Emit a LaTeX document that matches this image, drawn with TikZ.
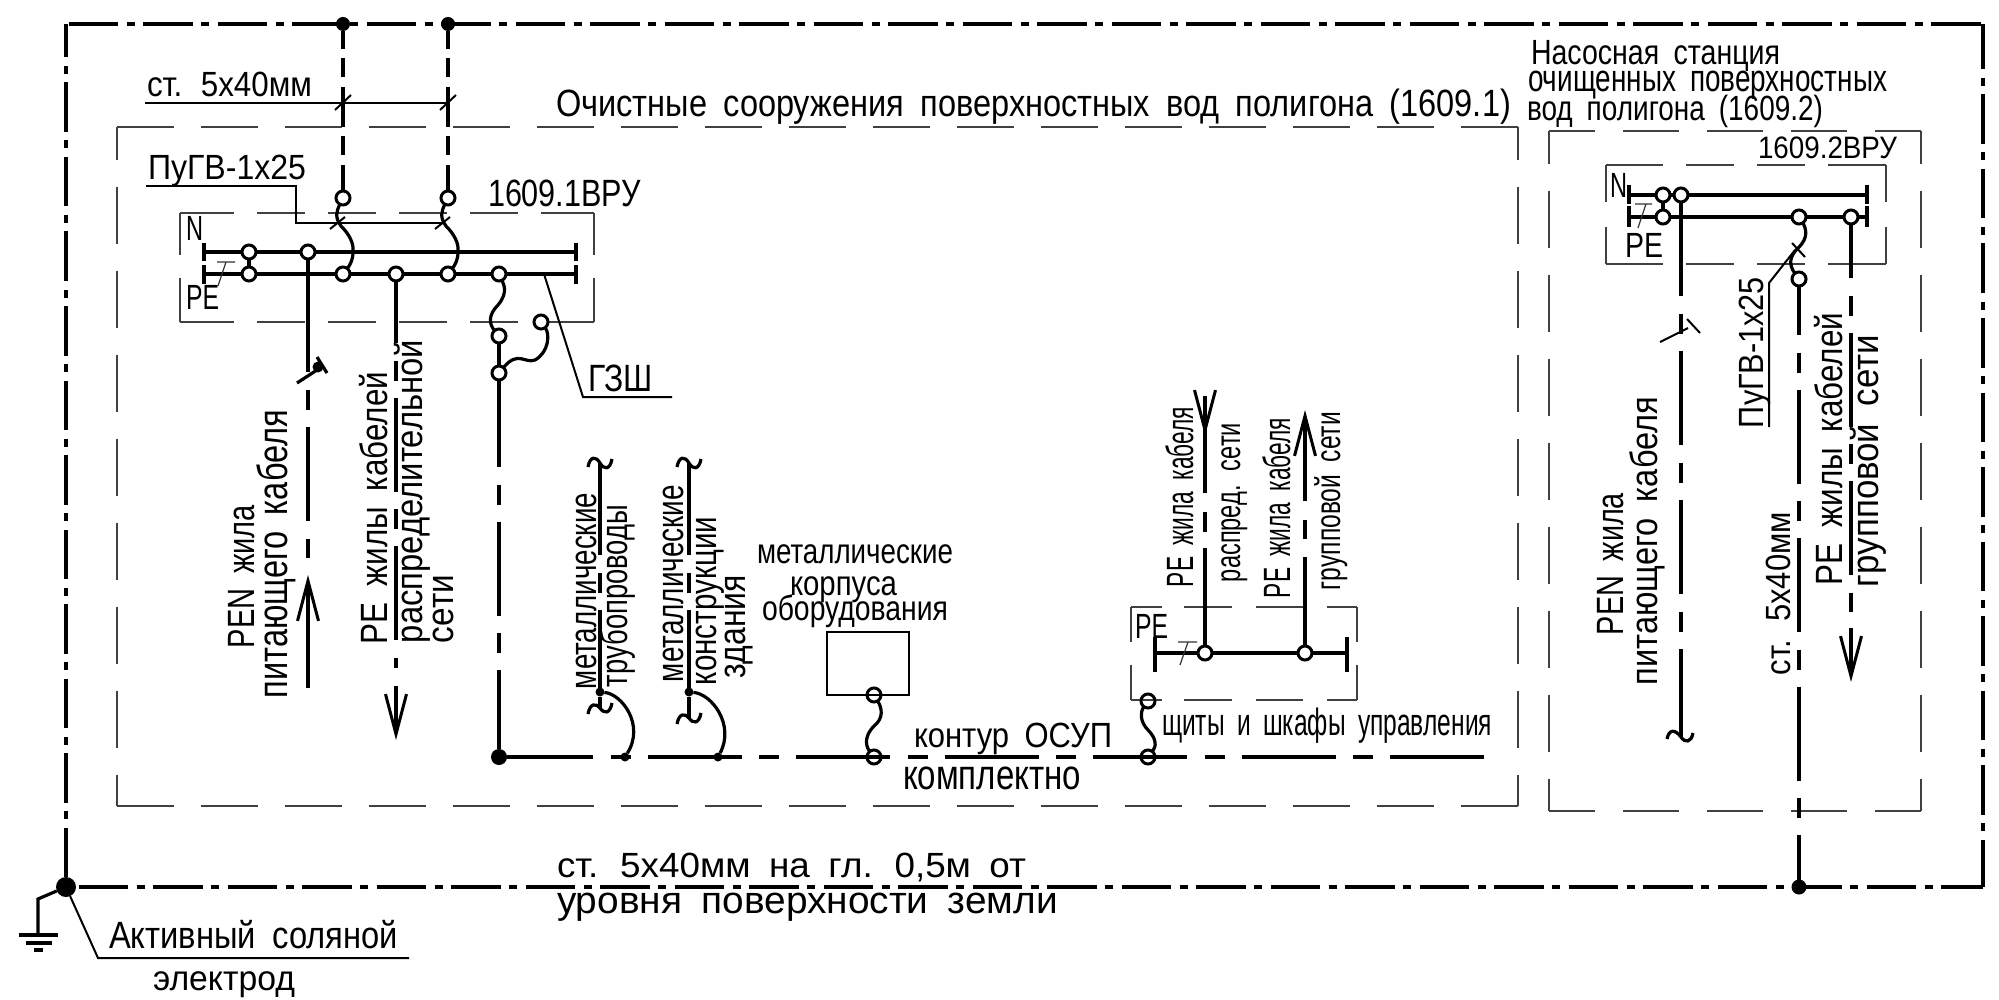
\documentclass[tikz,border=0pt]{standalone}
\usepackage{fontspec}
\setmainfont[WordSpace=1.8]{Liberation Sans}
\usetikzlibrary{arrows.meta}
\newcommand{\fitw}[2]{\resizebox{#1pt}{\height}{#2}}
\newcommand{\zonebox}[6]{%
  \draw[zone,#5] (#1,#2) -- (#3,#2);
  \draw[zone,#5] (#1,#4) -- (#3,#4);
  \draw[zone,#6] (#1,#2) -- (#1,#4);
  \draw[zone,#6] (#3,#2) -- (#3,#4);
}

\begin{document}
\begin{tikzpicture}[
    x=1pt, y=-1pt,
    lbl/.style={anchor=base west, inner sep=0, outer sep=0, font=\fontsize{35}{35}\selectfont},
    lblbig/.style={lbl, font=\fontsize{38}{38}\selectfont},
    lblhuge/.style={lbl, font=\fontsize{42}{42}\selectfont},
    lblsmall/.style={lbl, font=\fontsize{31}{31}\selectfont},
    up/.style={rotate=90},
    term/.style={circle, draw, line width=3, minimum size=14, inner sep=0, outer sep=0},
    termw/.style={term, fill=white},
    dot/.style={circle, fill=black, minimum size=#1, inner sep=0, outer sep=0},
    zone/.style={line width=1.4, black!75},
    earth/.style={line width=3.6, dash pattern=on 49.5 off 8.5 on 8 off 8.5},
    cable/.style={line width=3.6, dash pattern=on 94 off 17.5 on 20 off 17},
    riser/.style={line width=3.6, dash pattern=on 40 off 9 on 19 off 10},
    bus/.style={line width=3.6},
    wire/.style={line width=3.2},
    leader/.style={line width=2},
    thinl/.style={line width=1.2, black!80},
    tip/.style={wire, -{Straight Barb[length=40pt,width=21pt,line width=3pt]}}
]
\useasboundingbox (0,0) rectangle (1999,1000);

% Zones
\zonebox{117}{127}{1518}{806}{dash pattern=on 57 off 27}{dash pattern=on 57 off 27, dash phase=24}
\zonebox{1549}{131}{1921}{811}{dash pattern=on 56 off 28, dash phase=10}{dash pattern=on 57 off 27, dash phase=24}
\zonebox{180}{213}{594}{322}{dash pattern=on 54 off 23 on 48 off 23 on 48 off 23 on 48 off 23 on 48 off 23 on 60}{dash pattern=on 42 off 23 on 60}
\zonebox{1606}{165}{1886}{264}{dash pattern=on 57 off 23 on 48 off 23 on 48 off 23 on 60}{dash pattern=on 37 off 25 on 60}
\zonebox{1131}{607}{1357}{700}{dash pattern=on 31 off 22 on 48 off 24 on 47 off 24 on 60}{dash pattern=on 35 off 23 on 60}

% Outer earth line
\node[dot=20] (nEarth) at (66,887) {};
\node[dot=14] (nTopA) at (343,24) {};
\node[dot=14] (nTopB) at (448,24) {};
\node[dot=15] (nRight) at (1799,887) {};
\coordinate (cTL) at (66,24);
\coordinate (cTR) at (1983,24);
\coordinate (cBR) at (1983,887);
\draw[earth, dash phase=72] (cTL) -- (cTR);
\draw[earth, dash phase=4] (cTR) -- (cBR);
\draw[earth, dash phase=72] (nEarth) -- (cBR);
\draw[earth, dash phase=0] (nEarth) -- (cTL);

% Earth symbol
\coordinate (cGndA) at (38,899);
\coordinate (cGndB) at (38,935);
\draw[wire] (nEarth) -- (cGndA) -- (cGndB);
\draw[wire] (19,935) -- (58,935) (26,943) -- (52,943) (34,950) -- (43,950);
\coordinate (cElecA) at (98,958);
\coordinate (cElecB) at (409,958);
\draw[leader] (nEarth) -- (cElecA) -- (cElecB);
\node[lblbig] (lElecA) at (109,948) {\fitw{289}{Активный соляной}};
\node[lbl] (lElecB) at (153,990) {\fitw{142}{электрод}};

% Panel 1609.1 terminals
\node[termw] (tTopA) at (343,198) {};
\node[termw] (tTopB) at (448,198) {};
\node[termw] (tNa) at (249,252) {};
\node[termw] (tNb) at (308,252) {};
\node[termw] (tPa) at (249,274) {};
\node[termw] (tPb) at (343,274) {};
\node[termw] (tPc) at (396,274) {};
\node[termw] (tPd) at (448,274) {};
\node[termw] (tPe) at (499,274) {};
\node[termw] (tGa) at (499,336) {};
\node[termw] (tGb) at (499,373) {};
\node[termw] (tGc) at (541,322) {};

% Panel 1609.1 buses
\coordinate (cNw) at (204,252);
\coordinate (cNe) at (576,252);
\coordinate (cPw) at (204,274);
\coordinate (cPe) at (576,274);
\draw[bus] (cNw) -- (tNa) -- (tNb) -- (cNe);
\draw[bus] (cPw) -- (tPa) -- (tPb) -- (tPc) -- (tPd) -- (tPe) -- (cPe);
\draw[bus] (tNa) -- (tPa);
\draw[bus] (cNw) ++(0,-9) -- ++(0,18) (cPw) ++(0,-9) -- ++(0,19);
\draw[bus] (cNe) ++(0,-9) -- ++(0,18) (cPe) ++(0,-9) -- ++(0,19);
\draw[thinl] (217,262) -- (235,262) (226,262) -- (218,286);

% Risers from the earth line
\draw[riser, dash phase=22] (nTopA) -- (tTopA);
\draw[riser, dash phase=22] (nTopB) -- (tTopB);
\draw[wire] (tTopA) .. controls (336,212) and (335,218) .. (341,226) .. controls (349,234) and (354,243) .. (353,252) .. controls (353,260) and (350,265) .. (tPb);
\draw[wire] (tTopB) .. controls (441,212) and (440,218) .. (446,226) .. controls (454,234) and (459,243) .. (458,252) .. controls (458,260) and (455,265) .. (tPd);
\draw[wire] (tPe) .. controls (503,283) and (509,292) .. (498,305) .. controls (488,315) and (489,324) .. (tGa);
\draw[wire] (tGb) -- (tGa);
\draw[wire] (tGc) .. controls (550,334) and (549,352) .. (535,360) .. controls (525,364) and (518,350) .. (tGb);

% Steel strip leader
\coordinate (cStrip) at (145,103);
\coordinate (cStripE) at (448,103);
\draw[leader] (cStrip) -- (cStripE);
\draw[leader] (335,110) -- (351,95) (440,110) -- (456,95);
\node[lbl] (lStrip) at (147,97) {\fitw{165}{ст. 5х40мм}};

% Cable leader
\coordinate (cCabA) at (146,186);
\coordinate (cCabB) at (296,186);
\coordinate (cCabC) at (296,223);
\coordinate (cCabD) at (443,223);
\draw[leader] (cCabA) -- (cCabB) -- (cCabC) -- (cCabD);
\draw[leader] (330,229) -- (345,217) (435,229) -- (450,217);
\node[lbl] (lCab) at (148,180) {\fitw{158}{ПуГВ-1х25}};
\node[lblbig] (lPanelA) at (488,207) {\fitw{153}{1609.1ВРУ}};
\node[lbl] (lNa) at (186,241) {\fitw{17}{N}};
\node[lbl] (lPEa) at (186,309) {\fitw{33}{PE}};

% Main earth bar label
\coordinate (cBarA) at (544,274);
\coordinate (cBarB) at (583,397);
\coordinate (cBarC) at (672,397);
\draw[leader] (cBarA) -- (cBarB) -- (cBarC);
\node[lblbig] (lBar) at (588,391) {\fitw{65}{ГЗШ}};

% PEN core, left
\coordinate (cPenA) at (308,372);
\coordinate (cPenB) at (308,390);
\coordinate (cPenC) at (308,558);
\coordinate (cPenD) at (308,688);
\coordinate (cPenE) at (308,575);
\draw[wire] (tNb) -- (cPenA);
\draw[cable, dash phase=111.5] (cPenB) -- (cPenC);
\draw[tip] (cPenD) -- (cPenE);
\draw[wire] (297,383) -- (317,370) (317,357) -- (327,373);
\node[dot=11] (dPen) at (318,367) {};
\node[lblbig, up] (lPenA) at (254,648) {\fitw{143}{PEN жила}};
\node[lblhuge, up] (lPenB) at (287,698) {\fitw{288}{питающего кабеля}};

% PE core, left
\coordinate (cPeA) at (396,668);
\coordinate (cPeB) at (396,686);
\coordinate (cPeC) at (396,740);
\draw[cable, dash phase=32] (tPc) -- (cPeA);
\draw[tip] (cPeB) -- (cPeC);
\node[lblbig, up] (lPeA) at (387,644) {\fitw{272}{PE жилы кабелей}};
\node[lblbig, up] (lPeB) at (422,643) {\fitw{303}{распределительной}};
\node[lblbig, up] (lPeC) at (453,643) {\fitw{68}{сети}};

% Main earth conductor
\node[dot=16] (nMain) at (499,757) {};
\coordinate (cMainEnd) at (1486,757);
\draw[cable, dash phase=7] (tGb) -- (nMain);

% Metal pipes
\coordinate (cPipeA) at (600,463);
\coordinate (cPipeB) at (600,708);
\coordinate (cPipeE) at (625,757);
\node[dot=9] (dPipeA) at (600,692) {};
\node[dot=9] (dPipeB) at (625,757) {};
\draw[wire, dash pattern=on 92 off 18 on 20 off 17] (cPipeA) -- (dPipeA);
\draw[wire] (dPipeA) -- (cPipeB);
\draw[wire] (dPipeA) .. controls (622,694) and (645,725) .. (dPipeB);
\draw[wire] (588,467) .. controls (590,456) and (596,456) .. (cPipeA) .. controls (604,470) and (610,470) .. (612,459);
\draw[wire] (588,714) .. controls (590,703) and (596,703) .. (cPipeB) .. controls (604,714) and (610,714) .. (612,703);
\node[lblbig, up] (lPipeA) at (596,689) {\fitw{196}{металлические}};
\node[lblbig, up] (lPipeB) at (627,687) {\fitw{182}{трубопроводы}};

% Metal structures
\coordinate (cStrA) at (689,463);
\coordinate (cStrB) at (689,718);
\node[dot=9] (dStrA) at (689,692) {};
\node[dot=9] (dStrB) at (718,757) {};
\draw[wire, dash pattern=on 92 off 18 on 20 off 17] (cStrA) -- (dStrA);
\draw[wire] (dStrA) -- (cStrB);
\draw[wire] (dStrA) .. controls (712,694) and (735,725) .. (dStrB);
\draw[wire] (677,467) .. controls (679,456) and (685,456) .. (cStrA) .. controls (693,470) and (699,470) .. (701,459);
\draw[wire] (677,724) .. controls (679,713) and (685,713) .. (cStrB) .. controls (693,724) and (699,724) .. (701,713);
\node[lblbig, up] (lStrA) at (683,682) {\fitw{197}{металлические}};
\node[lblbig, up] (lStrB) at (716,685) {\fitw{168}{конструкции}};
\node[lblbig, up] (lStrC) at (745,678) {\fitw{103}{здания}};

% Equipment housing
\node[term] (tBoxA) at (874,695) {};
\node[term] (tBoxB) at (874,757) {};
\draw[line width=2] (827,632) rectangle (909,695);
\draw[wire] (tBoxA) .. controls (882,708) and (884,718) .. (874,726) .. controls (866,734) and (864,744) .. (tBoxB);
\node[lbl] (lBoxA) at (757,563) {\fitw{196}{металлические}};
\node[lbl] (lBoxB) at (790,595) {\fitw{107}{корпуса}};
\node[lbl] (lBoxC) at (762,620) {\fitw{186}{оборудования}};

% Control boards
\node[term] (tBrdA) at (1148,701) {};
\node[term] (tBrdB) at (1148,757) {};
\draw[wire] (tBrdA) .. controls (1140,712) and (1140,722) .. (1148,730) .. controls (1156,738) and (1157,746) .. (tBrdB);
\draw[line width=4, dash pattern=on 94 off 17.5 on 20 off 17, dash phase=8] (nMain) -- (cMainEnd);
\node[lblbig] (lBrd) at (1162,735) {\fitw{330}{щиты и шкафы управления}};
\node[lbl] (lLoop) at (914,747) {\fitw{198}{контур ОСУП}};
\node[lblhuge] (lKit) at (903,789) {\fitw{178}{комплектно}};

% PE bus in the boards
\node[termw] (tBa) at (1205,653) {};
\node[termw] (tBb) at (1305,653) {};
\coordinate (cBw) at (1155,653);
\coordinate (cBe) at (1347,653);
\draw[bus] (cBw) -- (tBa) -- (tBb) -- (cBe);
\draw[bus] (cBw) ++(0,-16) -- ++(0,35) (cBe) ++(0,-16) -- ++(0,35);
\draw[thinl] (1178,642) -- (1197,642) (1188,642) -- (1180,665);
\node[lbl] (lPEb) at (1135,638) {\fitw{33}{PE}};
\coordinate (cBaA) at (1205,512);
\coordinate (cBaB) at (1205,493);
\coordinate (cBaC) at (1205,396);
\coordinate (cBaD) at (1205,436);
\draw[cable, dash pattern=on 98 off 16 on 20 off 60] (tBa) -- (cBaA);
\draw[wire] (cBaB) -- (cBaC);
\draw[tip] (cBaC) -- (cBaD);
\coordinate (cBbA) at (1305,520);
\coordinate (cBbB) at (1305,501);
\coordinate (cBbC) at (1305,410);
\draw[cable, dash pattern=on 89 off 18 on 20 off 60] (tBb) -- (cBbA);
\draw[tip] (cBbB) -- (cBbC);
\node[lblbig, up] (lBaA) at (1193,587) {\fitw{180}{PE жила кабеля}};
\node[lbl, up] (lBaB) at (1240,582) {\fitw{159}{распред. сети}};
\node[lblbig, up] (lBbA) at (1290,598) {\fitw{180}{PE жила кабеля}};
\node[lbl, up] (lBbB) at (1340,590) {\fitw{178}{групповой сети}};

% Panel 1609.2
\node[termw] (tRa) at (1663,195) {};
\node[termw] (tRb) at (1681,195) {};
\node[termw] (tRc) at (1663,217) {};
\node[termw] (tRd) at (1799,217) {};
\node[termw] (tRe) at (1851,217) {};
\node[termw] (tRf) at (1799,279) {};
\coordinate (cRNw) at (1629,195);
\coordinate (cRNe) at (1867,195);
\coordinate (cRPw) at (1629,217);
\coordinate (cRPe) at (1867,217);
\draw[bus] (cRNw) -- (tRa) -- (tRb) -- (cRNe);
\draw[bus] (cRPw) -- (tRc) -- (tRd) -- (tRe) -- (cRPe);
\draw[bus] (tRa) -- (tRc);
\draw[bus] (cRNw) ++(0,-10) -- ++(0,19) (cRPw) ++(0,-11) -- ++(0,21);
\draw[bus] (cRNe) ++(0,-10) -- ++(0,19) (cRPe) ++(0,-11) -- ++(0,21);
\draw[thinl] (1635,204) -- (1652,204) (1646,204) -- (1638,228);
\draw[wire] (tRd) .. controls (1806,228) and (1809,238) .. (1798,248) .. controls (1790,256) and (1788,264) .. (tRf);
\node[lbl] (lNb) at (1610,198) {\fitw{17}{N}};
\node[lbl] (lPEc) at (1625,258) {\fitw{38}{PE}};
\node[lblsmall] (lPanelB) at (1758,159) {\fitw{139}{1609.2ВРУ}};

% PEN core, right
\coordinate (cRpA) at (1681,737);
\draw[cable, dash pattern=on 94 off 18 on 20 off 17] (tRb) -- (cRpA);
\draw[wire] (1667,739) .. controls (1669,729) and (1675,729) .. (cRpA) .. controls (1685,743) and (1691,743) .. (1693,733);
\draw[leader] (1660,342) -- (1688,328) (1687,319) -- (1700,333);
\node[lblbig, up] (lRpA) at (1623,635) {\fitw{142}{PEN жила}};
\node[lblbig, up] (lRpB) at (1657,685) {\fitw{288}{питающего кабеля}};

% Strip, right
\draw[cable, dash phase=45] (tRf) -- (nRight);
\coordinate (cRlA) at (1769,427);
\coordinate (cRlB) at (1769,283);
\coordinate (cRlC) at (1795,250);
\draw[leader] (cRlA) -- (cRlB) -- (cRlC);
\draw[leader] (1792,243) -- (1805,257);
\node[lbl, up] (lRlA) at (1763,428) {\fitw{151}{ПуГВ-1х25}};
\node[lbl, up] (lRlB) at (1790,675) {\fitw{163}{ст. 5х40мм}};

% PE core, right
\coordinate (cReA) at (1851,612);
\coordinate (cReB) at (1851,628);
\coordinate (cReC) at (1851,682);
\draw[cable, dash phase=40] (tRe) -- (cReA);
\draw[tip] (cReB) -- (cReC);
\node[lblbig, up] (lReA) at (1842,585) {\fitw{272}{PE жилы кабелей}};
\node[lblbig, up] (lReB) at (1878,587) {\fitw{252}{групповой сети}};

% Zone titles
\node[lblbig] (lZoneA) at (556,117) {\fitw{955}{Очистные сооружения поверхностных вод полигона (1609.1)}};
\node[lbl] (lZoneBa) at (1531,65) {\fitw{249}{Насосная станция}};
\node[lblbig] (lZoneBb) at (1528,92) {\fitw{359}{очищенных поверхностных}};
\node[lbl] (lZoneBc) at (1527,121) {\fitw{296}{вод полигона (1609.2)}};
\node[lbl] (lDepthA) at (557,877) {\fitw{469}{ст. 5х40мм на гл. 0,5м от}};
\node[lblbig] (lDepthB) at (557,913) {\fitw{501}{уровня поверхности земли}};

\end{tikzpicture}
\end{document}
